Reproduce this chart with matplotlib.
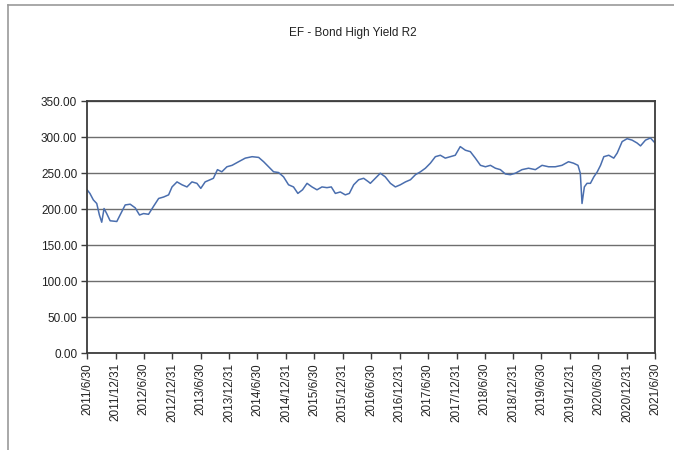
import pandas as pd
import matplotlib
matplotlib.use("Agg")
import matplotlib.pyplot as plt
import matplotlib.dates as mdates
from matplotlib.lines import Line2D

plt.rcParams['font.family'] = ['Liberation Sans', 'DejaVu Sans']

# values
dates = [
    "2011-07-01", "2011-07-19", "2011-08-10", "2011-09-01", "2011-09-18", "2011-10-03",
    "2011-10-18", "2011-11-04", "2011-11-26", "2012-01-08", "2012-01-29", "2012-03-02",
    "2012-04-03", "2012-05-05", "2012-06-02", "2012-06-28", "2012-07-30", "2012-08-31",
    "2012-10-03", "2012-11-04", "2012-12-06", "2012-12-28", "2013-01-29", "2013-03-02",
    "2013-04-03", "2013-05-05", "2013-06-06", "2013-07-01", "2013-07-29", "2013-08-30",
    "2013-09-20", "2013-10-16", "2013-11-13", "2013-12-16", "2014-01-18", "2014-03-01",
    "2014-04-13", "2014-05-27", "2014-07-08", "2014-08-09", "2014-09-10", "2014-10-12",
    "2014-11-13", "2014-12-15", "2015-01-16", "2015-02-17", "2015-03-17", "2015-04-16",
    "2015-05-15", "2015-06-16", "2015-07-18", "2015-08-19", "2015-09-20", "2015-10-18",
    "2015-11-13", "2015-12-15", "2016-01-16", "2016-02-11", "2016-03-10", "2016-04-11",
    "2016-05-13", "2016-06-14", "2016-06-25", "2016-07-27", "2016-08-28", "2016-09-29",
    "2016-11-01", "2016-12-03", "2017-01-04", "2017-02-06", "2017-03-10", "2017-04-11",
    "2017-05-13", "2017-06-14", "2017-07-16", "2017-08-17", "2017-09-18", "2017-10-20",
    "2017-11-21", "2017-12-23", "2018-01-24", "2018-02-26", "2018-03-30", "2018-05-01",
    "2018-06-03", "2018-07-05", "2018-08-06", "2018-09-07", "2018-10-09", "2018-11-10",
    "2018-12-12", "2019-01-13", "2019-02-25", "2019-04-08", "2019-05-22", "2019-07-04",
    "2019-08-15", "2019-09-27", "2019-11-09", "2019-12-21", "2020-01-22", "2020-02-20",
    "2020-03-06", "2020-03-17", "2020-04-01", "2020-04-18", "2020-05-10", "2020-06-01",
    "2020-06-23", "2020-07-14", "2020-08-04", "2020-09-05", "2020-10-07", "2020-10-29",
    "2020-11-30", "2021-01-01", "2021-02-02", "2021-03-06", "2021-03-28", "2021-04-29",
    "2021-05-31", "2021-06-21", "2021-06-30",
]
values = [
    227, 222, 213, 208, 192, 182,
    201, 194, 184, 183, 192, 206,
    207, 202, 192, 194, 193, 204,
    215, 217, 220, 231, 238, 234,
    231, 238, 236, 229, 238, 241,
    243, 255, 252, 259, 261, 266,
    271, 273, 272, 266, 259, 252,
    251, 245, 234, 231, 222, 227,
    236, 231, 227, 231, 230, 231,
    222, 224, 220, 222, 234, 241,
    243, 238, 236, 243, 250, 245,
    236, 231, 234, 238, 241, 248,
    252, 257, 264, 273, 275, 271,
    273, 275, 287, 282, 280, 271,
    261, 259, 261, 257, 255, 249,
    248, 250, 255, 257, 255, 261,
    259, 259, 261, 266, 264, 261,
    250, 208, 231, 236, 236, 245,
    252, 261, 273, 275, 271, 278,
    294, 298, 296, 292, 288, 296,
    299, 294, 292,
]
tick_dates = [
    "2011-06-30", "2011-12-31", "2012-06-30", "2012-12-31", "2013-06-30", "2013-12-31",
    "2014-06-30", "2014-12-31", "2015-06-30", "2015-12-31", "2016-06-30", "2016-12-31",
    "2017-06-30", "2017-12-31", "2018-06-30", "2018-12-31", "2019-06-30", "2019-12-31",
    "2020-06-30", "2020-12-31", "2021-06-30",
]
tick_labels = [
    "2011/6/30", "2011/12/31", "2012/6/30", "2012/12/31", "2013/6/30", "2013/12/31",
    "2014/6/30", "2014/12/31", "2015/6/30", "2015/12/31", "2016/6/30", "2016/12/31",
    "2017/6/30", "2017/12/31", "2018/6/30", "2018/12/31", "2019/6/30", "2019/12/31",
    "2020/6/30", "2020/12/31", "2021/6/30",
]

x = pd.to_datetime(dates)
ticks = pd.to_datetime(tick_dates)

fig = plt.figure(figsize=(6.74, 4.5), dpi=100)
ax = fig.add_axes([0.129, 0.215, 0.843, 0.56])

ax.plot(x, values, color='#4a6eae', lw=1.1)

ax.set_ylim(0, 350)
ax.set_yticks(range(0, 351, 50))
ax.set_yticklabels([f"{v:.2f}" for v in range(0, 351, 50)])
ax.set_xlim(ticks[0], ticks[-1])
ax.set_xticks(ticks)
ax.set_xticklabels(tick_labels, rotation=90)

ax.grid(axis='y', color='#6e6e6e', lw=1.0)
ax.set_axisbelow(True)
for s in ax.spines.values():
    s.set_color('#3c3c3c')
    s.set_linewidth(1.3)
ax.tick_params(axis='both', length=4, width=1, color='#3c3c3c',
               labelsize=8.5, labelcolor='#222222', pad=3)

fig.text(0.524, 0.927, "EF - Bond High Yield R2", ha='center', va='center',
         fontsize=8.5, color='#222222')

# border lines of the chart frame (top and left)
fig.add_artist(Line2D([0.012, 1.0], [0.988, 0.988], transform=fig.transFigure,
                      color='#9a9a9a', lw=1.2))
fig.add_artist(Line2D([0.012, 0.012], [0.0, 0.988], transform=fig.transFigure,
                      color='#9a9a9a', lw=1.2))

fig.savefig("out.png", dpi=100)
